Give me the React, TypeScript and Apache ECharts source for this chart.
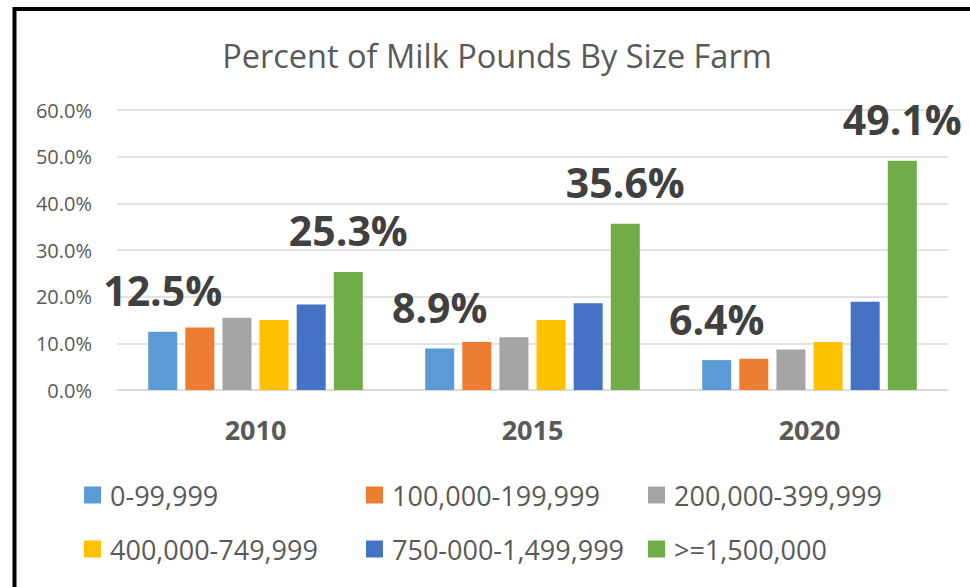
import React, { useEffect, useRef } from "react";
import * as echarts from "echarts";

const categories = ["2010", "2015", "2020"];
const seriesNames = [
  "0-99,999",
  "100,000-199,999",
  "200,000-399,999",
  "400,000-749,999",
  "750-000-1,499,999",
  ">=1,500,000",
];
const s0 = [12.5, 8.9, 6.4];
const s1 = [13.4, 10.3, 6.7];
const s2 = [15.5, 11.3, 8.7];
const s3 = [15.0, 15.0, 10.3];
const s4 = [18.3, 18.6, 18.9];
const s5 = [25.3, 35.6, 49.1];
const seriesValues = [s0, s1, s2, s3, s4, s5];
const colors = ["#5B9BD5", "#ED7D31", "#A5A5A5", "#FFC000", "#4472C4", "#70AD47"];
const labeledSeries = [0, 5];
const yTicks = { min: 0, max: 60, interval: 10 };

const FONT = "'Open Sans', sans-serif";

export default function App() {
  const ref = useRef<HTMLDivElement>(null);
  useEffect(() => {
    if (!ref.current) return;
    const chart = echarts.init(ref.current, null, { renderer: "svg" });
    const legendCols = [0, 1, 2].map((c) => ({
      show: true,
      orient: "vertical",
      left: 84 + c * 282,
      top: 480,
      itemWidth: 17,
      itemHeight: 17,
      itemGap: 24,
      padding: 0,
      icon: "rect",
      data: [seriesNames[c], seriesNames[c + 3]],
      textStyle: { fontFamily: FONT, fontSize: 27, color: "#595959", lineHeight: 30, padding: [0, 0, 0, 4] },
    }));
    chart.setOption({
      animation: false,
      backgroundColor: "#ffffff",
      title: {
        text: "Percent of Milk Pounds By Size Farm",
        left: 492,
        textAlign: "center",
        top: 34,
        textStyle: { fontFamily: FONT, fontSize: 32.5, fontWeight: "normal", color: "#595959" },
      },
      graphic: [
        {
          type: "rect",
          shape: { x: 14.5, y: 9, width: 1100, height: 1000 },
          style: { fill: "none", stroke: "#000000", lineWidth: 4 },
          silent: true,
        },
      ],
      legend: legendCols,
      grid: { left: 117, right: 22, top: 110, bottom: 197, containLabel: false },
      xAxis: {
        type: "category",
        data: categories,
        axisLine: { show: true, lineStyle: { color: "#d9d9d9", width: 1.5 } },
        axisTick: { show: false },
        axisLabel: { fontFamily: FONT, fontSize: 27, fontWeight: "bold", color: "#595959", margin: 26 },
      },
      yAxis: {
        type: "value",
        min: yTicks.min,
        max: yTicks.max,
        interval: yTicks.interval,
        axisLine: { show: false },
        axisTick: { show: false },
        splitLine: { lineStyle: { color: "#d9d9d9", width: 1.5 } },
        axisLabel: {
          fontFamily: FONT,
          fontSize: 20,
          color: "#595959",
          margin: 25,
          formatter: (v: number) => v.toFixed(1) + "%",
        },
      },
      series: seriesValues.map((vals, i) => ({
        name: seriesNames[i],
        type: "bar",
        data: vals,
        barWidth: 29,
        barGap: "28%",
        itemStyle: { color: colors[i] },
        label: {
          show: labeledSeries.includes(i),
          position: "top",
          distance: 21,
          fontFamily: FONT,
          fontSize: 41,
          fontWeight: "bold",
          color: "#404040",
          formatter: (p: any) => p.value.toFixed(1) + "%",
        },
      })),
    });
    return () => chart.dispose();
  }, []);
  return (
    <div
      ref={ref}
      style={{ position: "fixed", left: 0, top: 0, width: 970, height: 587, background: "#fff" }}
    />
  );
}
